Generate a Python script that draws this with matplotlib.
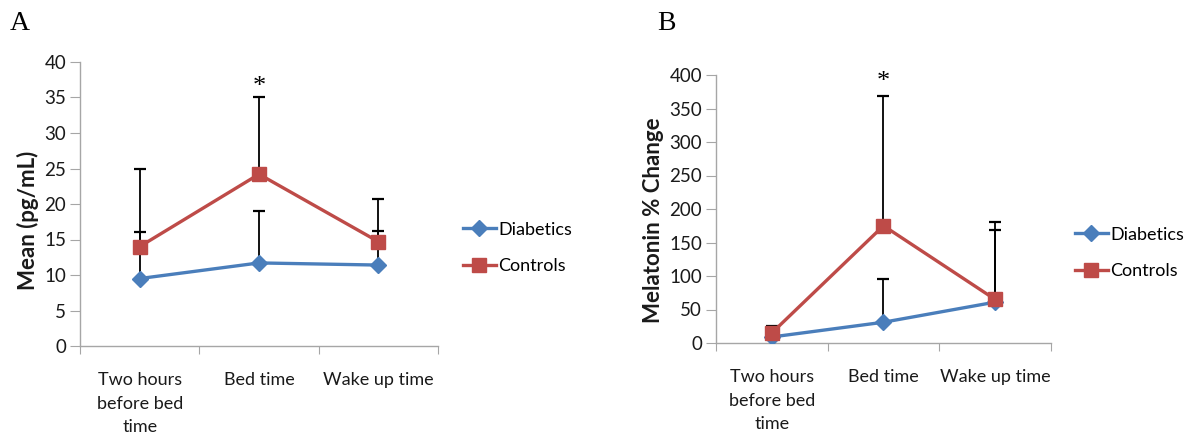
import matplotlib
matplotlib.use("Agg")
import matplotlib.pyplot as plt
import numpy as np

categories = ["Two hours\nbefore bed\ntime", "Bed time", "Wake up time"]

# Panel A: mean melatonin (pg/mL)
a_diabetics = [9.5, 11.7, 11.4]
a_diabetics_err = [6.6, 7.3, 4.8]
a_controls = [14.0, 24.2, 14.7]
a_controls_err = [11.0, 10.8, 6.0]

# Panel B: melatonin % change
b_diabetics = [9, 31, 61]
b_diabetics_err = [8, 64, 107]
b_controls = [15, 175, 65]
b_controls_err = [10, 193, 115]

BLUE = "#4a7ebb"
RED = "#be4b48"
GRID = "#a6a6a6"
TXT = "#1a1a1a"
FONT = ["Lato", "DejaVu Sans"]
SERIF = ["Liberation Serif", "DejaVu Serif"]
W, H = 1193, 441

fig = plt.figure(figsize=(W / 100, H / 100), dpi=100)


def panel(px, d, de, c, ce, ymax, ystep, ylabel, ylabel_x, star_y, letter, letter_xy, leg_xy):
    x0, x1, ytop, ybot = px
    ax = fig.add_axes([x0 / W, 1 - ybot / H, (x1 - x0) / W, (ybot - ytop) / H])
    x = np.arange(len(categories))
    ax.errorbar(x, d, yerr=[np.zeros(len(d)), de], fmt="none", ecolor="black",
                elinewidth=1.3, capsize=4, capthick=1.6, zorder=2)
    ax.errorbar(x, c, yerr=[np.zeros(len(c)), ce], fmt="none", ecolor="black",
                elinewidth=1.3, capsize=4, capthick=1.6, zorder=2)
    ax.plot(x, d, color=BLUE, lw=2.4, marker="D", ms=8, mfc=BLUE, mec=BLUE,
            label="Diabetics", zorder=3)
    ax.plot(x, c, color=RED, lw=2.4, marker="s", ms=9.5, mfc=RED, mec=RED,
            label="Controls", zorder=4)
    ax.set_xlim(-0.5, 2.5)
    ax.set_ylim(0, ymax)
    ax.set_yticks(np.arange(0, ymax + 1, ystep))
    ax.set_xticks([-0.5, 0.5, 1.5, 2.5], minor=False)
    ax.set_xticklabels([])
    ax.set_xticks(x, minor=True)
    ax.set_xticklabels(categories, minor=True, fontsize=13, family=FONT, color=TXT,
                       linespacing=1.55)
    ax.tick_params(axis="x", which="minor", length=0, pad=19)
    ax.tick_params(axis="x", which="major", length=6, color=GRID, direction="out")
    ax.tick_params(axis="y", length=7, color=GRID, direction="out", labelsize=13.5,
                   labelcolor=TXT, pad=3)
    for lab in ax.get_yticklabels():
        lab.set_family(FONT)
    for s in ["top", "right"]:
        ax.spines[s].set_visible(False)
    for s in ["left", "bottom"]:
        ax.spines[s].set_color(GRID)
        ax.spines[s].set_linewidth(1.0)
    ax.set_ylabel(ylabel, fontsize=16, fontweight="bold", family=FONT, color=TXT)
    ax.yaxis.set_label_coords(ylabel_x / W, 0.5, transform=fig.transFigure)
    ax.text(1, star_y, "*", ha="center", va="center", fontsize=19, family=SERIF)
    fig.text(letter_xy[0] / W, 1 - letter_xy[1] / H, letter, fontsize=20, family=SERIF,
             ha="left", va="center")
    ax.legend(loc="center left", bbox_to_anchor=(leg_xy[0] / W, 1 - leg_xy[1] / H),
              bbox_transform=fig.transFigure, frameon=False,
              prop={"family": FONT, "size": 13}, borderaxespad=0, borderpad=0,
              handlelength=1.8, handletextpad=0.15, labelspacing=1.15)
    ax.yaxis.label.set_va("center")
    return ax


panel((80, 438, 62, 346),
      a_diabetics, a_diabetics_err, a_controls, a_controls_err,
      40, 5, "Mean (pg/mL)", 28, 36.5, "A", (10, 24), (463, 248))

panel((716, 1051, 75, 343),
      b_diabetics, b_diabetics_err, b_controls, b_controls_err,
      400, 50, "Melatonin % Change", 654, 390, "B", (657, 24), (1075, 253))

fig.savefig("out.png", dpi=100)
